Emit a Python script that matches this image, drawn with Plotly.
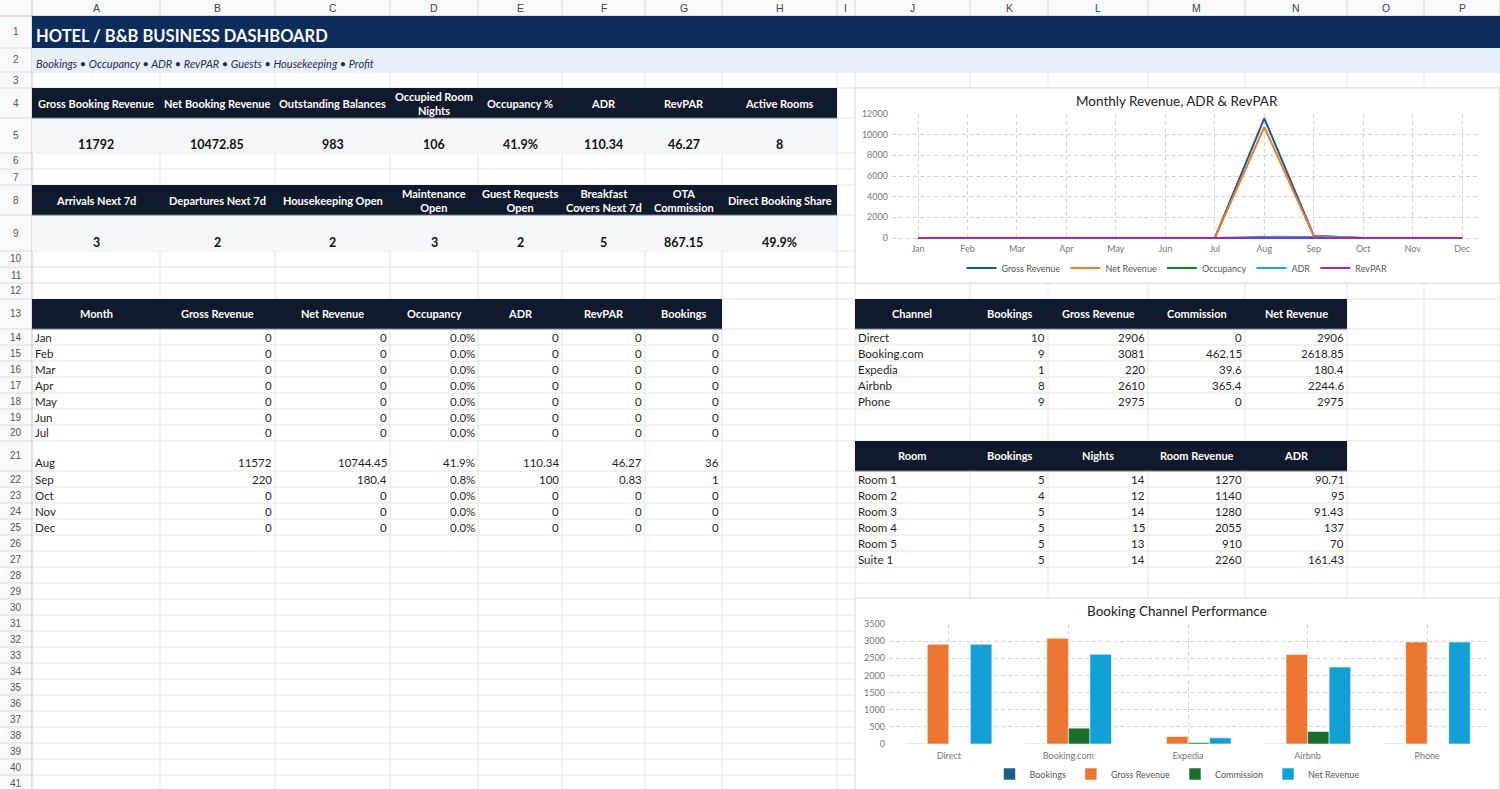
import plotly.graph_objects as go

W, H = 1500, 789

# ---------------- data ----------------
title_text = "HOTEL / B&B BUSINESS DASHBOARD"
subtitle_text = "Bookings • Occupancy • ADR • RevPAR • Guests • Housekeeping • Profit"

kpi1_labels = ["Gross Booking Revenue", "Net Booking Revenue", "Outstanding Balances",
               "Occupied Room<br>Nights", "Occupancy %", "ADR", "RevPAR", "Active Rooms"]
kpi1_values = ["11792", "10472.85", "983", "106", "41.9%", "110.34", "46.27", "8"]
kpi2_labels = ["Arrivals Next 7d", "Departures Next 7d", "Housekeeping Open", "Maintenance<br>Open",
               "Guest Requests<br>Open", "Breakfast<br>Covers Next 7d", "OTA<br>Commission",
               "Direct Booking Share"]
kpi2_values = ["3", "2", "2", "3", "2", "5", "867.15", "49.9%"]

months = ["Jan", "Feb", "Mar", "Apr", "May", "Jun", "Jul", "Aug", "Sep", "Oct", "Nov", "Dec"]
m_gross = [0, 0, 0, 0, 0, 0, 0, 11572, 220, 0, 0, 0]
m_net = [0, 0, 0, 0, 0, 0, 0, 10744.45, 180.4, 0, 0, 0]
m_occupancy = [0, 0, 0, 0, 0, 0, 0, 0.419, 0.008, 0, 0, 0]
m_adr = [0, 0, 0, 0, 0, 0, 0, 110.34, 100, 0, 0, 0]
m_revpar = [0, 0, 0, 0, 0, 0, 0, 46.27, 0.83, 0, 0, 0]
m_bookings = [0, 0, 0, 0, 0, 0, 0, 36, 1, 0, 0, 0]
month_headers = ["Month", "Gross Revenue", "Net Revenue", "Occupancy", "ADR", "RevPAR", "Bookings"]

channels = ["Direct", "Booking.com", "Expedia", "Airbnb", "Phone"]
ch_bookings = [10, 9, 1, 8, 9]
ch_gross = [2906, 3081, 220, 2610, 2975]
ch_commission = [0, 462.15, 39.6, 365.4, 0]
ch_net = [2906, 2618.85, 180.4, 2244.6, 2975]
channel_headers = ["Channel", "Bookings", "Gross Revenue", "Commission", "Net Revenue"]

rooms = ["Room 1", "Room 2", "Room 3", "Room 4", "Room 5", "Suite 1"]
room_bookings = [5, 4, 5, 5, 5, 5]
room_nights = [14, 12, 14, 15, 13, 14]
room_revenue = [1270, 1140, 1280, 2055, 910, 2260]
room_adr = [90.71, 95, 91.43, 137, 70, 161.43]
room_headers = ["Room", "Bookings", "Nights", "Room Revenue", "ADR"]

line_chart_title = "Monthly Revenue, ADR & RevPAR"
bar_chart_title = "Booking Channel Performance"

# ---------------- sheet geometry ----------------
col_letters = list("ABCDEFGHIJKLMNOP")
col_edges = [0, 32, 160, 275, 390, 478, 562, 645, 722, 837, 855, 970, 1048, 1148, 1245, 1347, 1424, 1500]
special_rows = {1: 32, 2: 24, 4: 30, 5: 35, 8: 30, 9: 36, 13: 30, 21: 30}
row_top = {}
y = 16
for r in range(1, 42):
    row_top[r] = y
    y += special_rows.get(r, 16)
row_top[42] = y


def rh(r):
    return row_top[r + 1] - row_top[r]


def cl(c):
    i = col_letters.index(c)
    return col_edges[i + 1], col_edges[i + 2]


def px(x):
    return x / W


def py(yv):
    return 1 - yv / H


def fmt(v):
    if float(v).is_integer():
        return str(int(v))
    return f"{v:.2f}".rstrip("0").rstrip(".")


shapes = []
annotations = []


def rect(x0, y0, x1, y1, fill, line=None, lw=0):
    shapes.append(dict(type="rect", xref="paper", yref="paper", x0=px(x0), x1=px(x1),
                       y0=py(y1), y1=py(y0), fillcolor=fill,
                       line=dict(color=line or fill, width=lw), layer="below"))


def hline(x0, x1, yv, color, w=1):
    shapes.append(dict(type="line", xref="paper", yref="paper", x0=px(x0), x1=px(x1),
                       y0=py(yv), y1=py(yv), line=dict(color=color, width=w), layer="below"))


def vline(xv, y0, y1, color, w=1):
    shapes.append(dict(type="line", xref="paper", yref="paper", x0=px(xv), x1=px(xv),
                       y0=py(y0), y1=py(y1), line=dict(color=color, width=w), layer="below"))


def txt(x, yv, s, size=12, color="#1f1f1f", xanchor="center", yanchor="middle",
        bold=False, italic=False, family="Lato"):
    if bold:
        s = f"<b>{s}</b>"
    if italic:
        s = f"<i>{s}</i>"
    annotations.append(dict(x=px(x), y=py(yv), xref="paper", yref="paper", text=s,
                            showarrow=False, xanchor=xanchor, yanchor=yanchor,
                            font=dict(size=size, color=color, family=family)))


GRID = "#e3e3e3"
# gridlines
for xe in col_edges[2:]:
    vline(xe, 16, H, GRID)
for r in range(1, 42):
    hline(32, W, row_top[r + 1], GRID)

# headers
rect(0, 0, W, 16, "#f8f9fa")
rect(0, 16, 32, H, "#f8f9fa")
for xe in col_edges[2:]:
    vline(xe, 0, 16, "#d6d6d6")
for r in range(1, 42):
    hline(0, 32, row_top[r + 1], "#dcdcdc")
hline(0, W, 16, "#c4c7c5")
vline(32, 0, H, "#c4c7c5")
for i, c in enumerate(col_letters):
    x0, x1 = cl(c)
    txt((x0 + x1) / 2, 8.5, c, size=10.5, color="#444", family="Liberation Sans")
for r in range(1, 42):
    txt(16, row_top[r] + rh(r) / 2, str(r), size=10, color="#555", family="Liberation Sans")

NAVY = "#0c2d5b"
DARK = "#111a2c"
VAL_BG = "#f4f8fc"

# title rows
rect(32, row_top[1], W, row_top[2], NAVY)
rect(32, row_top[2], W, row_top[3], "#e8f0fd")
txt(34, row_top[1] + 20, title_text, size=16.5, color="white", xanchor="left", bold=True)
txt(34, row_top[2] + 15, subtitle_text, size=11, color="#1f2d4d", xanchor="left", italic=True)

# KPI blocks
kpi_cols = list("ABCDEFGH")
for (hr, labels, values) in [(4, kpi1_labels, kpi1_values), (8, kpi2_labels, kpi2_values)]:
    rect(32, row_top[hr], 837, row_top[hr + 1], DARK)
    rect(32, row_top[hr + 1], 837, row_top[hr + 2], VAL_BG)
    hline(32, 837, row_top[hr + 1], "#6b7280")
    for c, lab, val in zip(kpi_cols, labels, values):
        x0, x1 = cl(c)
        txt((x0 + x1) / 2, row_top[hr] + rh(hr) / 2, lab, size=11, color="white", bold=True)
        txt((x0 + x1) / 2, row_top[hr + 2] - 9, val, size=12.5, color="#111", bold=True)

BODY = 11.5
# month table
mcols = list("ABCDEFG")
rect(32, row_top[13], cl("G")[1], row_top[14], DARK)
hline(32, cl("G")[1], row_top[14], "#7a7f88")
for c, hdr in zip(mcols, month_headers):
    x0, x1 = cl(c)
    txt((x0 + x1) / 2, row_top[13] + rh(13) / 2, hdr, size=11, color="white", bold=True)
for i, m in enumerate(months):
    r = 14 + i
    yc = row_top[r + 1] - 8
    vals = [fmt(m_gross[i]), fmt(m_net[i]), f"{m_occupancy[i] * 100:.1f}%", fmt(m_adr[i]),
            fmt(m_revpar[i]), fmt(m_bookings[i])]
    txt(cl("A")[0] + 1, yc, m, size=BODY, xanchor="left")
    for c, v in zip(mcols[1:], vals):
        txt(cl(c)[1] - 1, yc, v, size=BODY, xanchor="right")

# channel table
tcols = list("JKLMN")
rect(cl("J")[0], row_top[13], cl("N")[1], row_top[14], DARK)
hline(cl("J")[0], cl("N")[1], row_top[14], "#7a7f88")
for c, hdr in zip(tcols, channel_headers):
    x0, x1 = cl(c)
    txt((x0 + x1) / 2, row_top[13] + rh(13) / 2, hdr, size=11, color="white", bold=True)
for i, ch in enumerate(channels):
    r = 14 + i
    yc = row_top[r + 1] - 8
    vals = [fmt(ch_bookings[i]), fmt(ch_gross[i]), fmt(ch_commission[i]), fmt(ch_net[i])]
    txt(cl("J")[0] + 1, yc, ch, size=BODY, xanchor="left")
    for c, v in zip(tcols[1:], vals):
        txt(cl(c)[1] - 1, yc, v, size=BODY, xanchor="right")

# room table
rect(cl("J")[0], row_top[21], cl("N")[1], row_top[22], DARK)
hline(cl("J")[0], cl("N")[1], row_top[22], "#7a7f88")
for c, hdr in zip(tcols, room_headers):
    x0, x1 = cl(c)
    txt((x0 + x1) / 2, row_top[21] + rh(21) / 2, hdr, size=11, color="white", bold=True)
for i, rm in enumerate(rooms):
    r = 22 + i
    yc = row_top[r + 1] - 8
    vals = [fmt(room_bookings[i]), fmt(room_nights[i]), fmt(room_revenue[i]), fmt(room_adr[i])]
    txt(cl("J")[0] + 1, yc, rm, size=BODY, xanchor="left")
    for c, v in zip(tcols[1:], vals):
        txt(cl(c)[1] - 1, yc, v, size=BODY, xanchor="right")

# chart boxes
rect(855, 88, 1499.5, 283, "white", line="#dadce0", lw=1)
rect(855, 598, 1499.5, 795, "white", line="#dadce0", lw=1)
txt(1177, 101, line_chart_title, size=13.5, color="#222")
txt(1177, 611, bar_chart_title, size=13.5, color="#222")

# ---------------- traces ----------------
fig = go.Figure()
line_series = [("Gross Revenue", m_gross, "#1b5e8a"), ("Net Revenue", m_net, "#f07a30"),
               ("Occupancy", m_occupancy, "#1a7a2c"), ("ADR", m_adr, "#1aa6e0"),
               ("RevPAR", m_revpar, "#a12aa8")]
for name, vals, color in line_series:
    fig.add_trace(go.Scatter(x=months, y=vals, name=name, mode="lines",
                             line=dict(color=color, width=2), xaxis="x", yaxis="y",
                             legend="legend"))

bar_series = [("Bookings", ch_bookings, "#1b5e8a"), ("Gross Revenue", ch_gross, "#ec7532"),
              ("Commission", ch_commission, "#1b6e2a"), ("Net Revenue", ch_net, "#12a0d7")]
for name, vals, color in bar_series:
    fig.add_trace(go.Bar(x=channels, y=vals, name=name, marker=dict(color=color,
                         line=dict(color="rgba(255,255,255,0.55)", width=1)),
                         xaxis="x2", yaxis="y2", legend="legend2"))

TICKF = dict(size=9, color="#777", family="Lato")
AX_GRID = "#d4d4d4"
DASH = "4px,3px"
y0px, y12px = 238, 114
ppu = (y0px - y12px) / 12000
ybot = y0px + 150 * ppu

fig.update_layout(
    width=W, height=H, margin=dict(l=0, r=0, t=0, b=0, autoexpand=False),
    paper_bgcolor="white", plot_bgcolor="rgba(0,0,0,0)",
    shapes=shapes, annotations=annotations,
    barmode="group", bargap=0.28, bargroupgap=0,
    font=dict(family="Lato"),
    xaxis=dict(domain=[px(892), px(1478)], anchor="y", type="category", range=[-0.526, 11.32],
               showgrid=True, gridcolor=AX_GRID, griddash=DASH, zeroline=False,
               showline=False, ticks="", tickfont=TICKF, ticklabelstandoff=2, fixedrange=True),
    yaxis=dict(domain=[py(ybot), py(y12px)], anchor="x", range=[-150, 12000],
               tickvals=list(range(0, 12001, 2000)), tickformat="d",
               showgrid=True, gridcolor=AX_GRID, griddash=DASH, zeroline=False,
               showline=False, ticks="", tickfont=TICKF, ticklabelstandoff=3, fixedrange=True),
    xaxis2=dict(domain=[px(889), px(1487)], anchor="y2", type="category", range=[-0.5, 4.5],
                showgrid=True, gridcolor=AX_GRID, griddash=DASH, zeroline=False,
                showline=False, ticks="", tickfont=TICKF, ticklabelstandoff=5, fixedrange=True),
    yaxis2=dict(domain=[py(744), py(624)], anchor="x2", range=[0, 3500], dtick=500, tickformat="d",
                showgrid=True, gridcolor=AX_GRID, griddash=DASH, zeroline=False,
                showline=False, ticks="", tickfont=TICKF, ticklabelstandoff=3, fixedrange=True),
    legend=dict(orientation="h", x=px(1177), xanchor="center", y=py(268), yanchor="middle",
                font=dict(size=9, color="#555"), bgcolor="rgba(0,0,0,0)", itemwidth=30),
    legend2=dict(orientation="h", x=px(1177), xanchor="center", y=py(774), yanchor="middle",
                 font=dict(size=9, color="#555"), bgcolor="rgba(0,0,0,0)", itemwidth=30),
)

fig.write_html("out.html", config={"displayModeBar": False},
               post_script="document.body.style.margin='0';document.body.style.overflow='hidden';")
